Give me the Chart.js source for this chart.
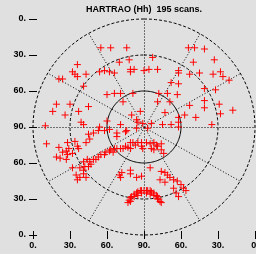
<!DOCTYPE html>
<html>
<head>
<meta charset="utf-8">
<script src="https://cdn.jsdelivr.net/npm/chart.js@4.4.1/dist/chart.umd.min.js"></script>
<style>
  html, body { margin: 0; padding: 0; background: #e0e0e0; }
  canvas { display: block; }
</style>
</head>
<body>
<canvas id="skyPlot" width="256" height="254"></canvas>
<script>
// HARTRAO (Hh) sky coverage plot
// scan positions projected on the sky: east = zd*sin(az), north = zd*cos(az), degrees
const eastOffset = [
    // north-west
    -54, -47, -58, -56, -54, -69, -66, -49, -71, -74, -60, -64, -53, -45, -51, -49, -80, -35, -27, -14,
    -20, -12, -11, -8, -11, 0, -36, -32, -28, -24, -30, -24, -19, -9, -17, -3, -10, -6, -5, -1,
    -30, -19, -36, -6,
    // north-east
    7, 4, 11, 36, 41, 49, 40, 28, 28, 37, 45, 22, 28, 49, 12, 19, 27, 11, 21, 37,
    17, 33, 42, 28, 28, 6, 15, 22, 28, 57, 56, 62, 64, 69, 58, 49, 49, 61, 62, 72,
    55, 3,
    // south-west, near zenith and west cluster
    -45, -41, -37, -44, -32, -28, -22, -22, -15, -14,
    -79, -69, -62, -56, -54, -53, -66, -63, -61, -58, -71, -68, -63, -62, -47,
    // south-west band
    -58, -55, -52, -47, -54, -49, -52, -49, -48, -45, -49, -46, -44, -41, -39, -43, -37, -35, -32, -31,
    -28, -27, -25, -24, -22, -19, -17, -15, -13, -11, -7, -11, -9, -5, -2, -2, -1,
    // south, near zenith
    2, 5, 6, 8, 10, 11, 14, 14, 8, 16,
    -20, -18, -19, -11, -11, -6, -2, 5,
    // south-east band
    14, 17, 19, 21, 24, 27, 30, 32, 34, 13, 17, 24, 26, 28,
    // southern track
    -13, -12, -11, -10, -8, -6, -5, -3, -2, 0, 2, 3, 5, 6, 8, 10, 11, 12, 13, 14,
    -11, -8, -5, -2, 2, 5, 8, 11
];
const northOffset = [
    52, 44, 46, 44, 42, 40, 40, 34, 19, 13, 19, 10, 13, 17, 4, 2, 1, 66, 66, 66,
    54, 56, 48, 48, 46, 47, 46, 47, 46, 45, 27, 28, 28, 28, 21, 13, 10, 6, 4, 3,
    5, 2, 0, -1,
    58, 48, 48, 66, 66, 65, 54, 47, 45, 44, 45, 37, 36, 32, 28, 28, 27, 21, 21, 18,
    12, 10, 8, 8, 4, 3, 2, 2, 0, 56, 44, 46, 42, 39, 31, 22, 16, 19, 11, 14,
    2, -1,
    -6, -5, -3, -10, -3, -2, -5, -8, -4, -3,
    -14, -17, -13, -12, -16, -18, -21, -20, -18, -22, -25, -26, -27, -23, -13,
    -34, -40, -42, -42, -44, -39, -34, -36, -33, -33, -29, -27, -29, -27, -27, -31, -25, -23, -23, -21,
    -20, -19, -21, -18, -18, -18, -18, -16, -17, -18, -15, -13, -13, -13, -13, -16, -18,
    -13, -14, -18, -13, -15, -16, -14, -19, -19, -22,
    -40, -38, -42, -36, -39, -42, -41, -34,
    -37, -38, -40, -42, -44, -45, -48, -51, -53, -44, -46, -51, -55, -58,
    -63, -61, -59, -58, -56, -55, -54, -53, -53, -53, -53, -53, -53, -54, -55, -57, -58, -60, -62, -63,
    -62, -58, -57, -55, -55, -56, -57, -60
];

const elevationRings = [60, 30, 0];
const azimuthSpokes = [0, 30, 60, 90, 120, 150, 180, 210, 240, 270, 300, 330];
const tickValues = [-90, -60, -30, 0, 30, 60, 90];
const tickLabels = ['0.', '30.', '60.', '90.', '60.', '30.', '0.'];
const titleText = 'HARTRAO (Hh)  195 scans.';

const FONT = '"Liberation Sans", Arial, Helvetica, sans-serif';

// rings, spokes, tick marks and title
const skyGrid = {
    id: 'skyGrid',
    beforeDatasetsDraw(chart) {
        const { ctx, scales: { x, y } } = chart;
        const cx = x.getPixelForValue(0) + 0.5;
        const cy = y.getPixelForValue(0) + 0.5;
        ctx.save();
        ctx.strokeStyle = '#000';
        ctx.lineWidth = 1;

        ctx.setLineDash([1, 2]);
        azimuthSpokes.forEach(az => {
            const a = az * Math.PI / 180;
            ctx.beginPath();
            ctx.moveTo(cx, cy);
            ctx.lineTo(x.getPixelForValue(90 * Math.sin(a)) + 0.5, y.getPixelForValue(90 * Math.cos(a)) + 0.5);
            ctx.stroke();
        });

        elevationRings.forEach(el => {
            const zd = 90 - el;
            ctx.setLineDash(el === 60 ? [] : [3, 2]);
            ctx.beginPath();
            for (let k = 0; k <= 360; k += 2) {
                const a = k * Math.PI / 180;
                const px = x.getPixelForValue(zd * Math.sin(a));
                const py = y.getPixelForValue(zd * Math.cos(a));
                if (k === 0) ctx.moveTo(px, py); else ctx.lineTo(px, py);
            }
            ctx.stroke();
        });
        ctx.restore();
    },
    afterDraw(chart) {
        const { ctx, chartArea, scales: { x, y } } = chart;
        ctx.save();
        ctx.strokeStyle = '#000';
        ctx.lineWidth = 1;
        ctx.beginPath();
        tickValues.forEach(v => {
            const px = Math.round(x.getPixelForValue(v)) + 0.5;
            ctx.moveTo(px, chartArea.bottom - 4);
            ctx.lineTo(px, chartArea.bottom + 4);
            const py = Math.round(y.getPixelForValue(v)) + 0.5;
            ctx.moveTo(chartArea.left - 4, py);
            ctx.lineTo(chartArea.left + 4, py);
        });
        ctx.stroke();

        ctx.fillStyle = '#000';
        ctx.font = 'bold 9px ' + FONT;
        ctx.textAlign = 'center';
        ctx.textBaseline = 'middle';
        ctx.fillText(titleText, (chartArea.left + chartArea.right) / 2, 10);
        ctx.restore();
    }
};

const axisOptions = (size) => ({
    min: -90,
    max: 90,
    afterBuildTicks: scale => { scale.ticks = tickValues.map(v => ({ value: v })); },
    afterFit: scale => {
        // no extra room for half labels at the ends
        scale.paddingLeft = scale.paddingRight = 0;
        scale.paddingTop = scale.paddingBottom = 0;
        if (scale.isHorizontal()) scale.height = size; else scale.width = size;
    },
    grid: { display: false, drawTicks: false },
    border: { display: false },
    ticks: {
        autoSkip: false,
        maxRotation: 0,
        color: '#000',
        font: { family: FONT, size: 9, weight: 'bold' },
        callback: (v, i) => tickLabels[i]
    }
});

const xAxis = axisOptions(19);
xAxis.ticks.padding = 5;
const yAxis = axisOptions(33);
yAxis.ticks.padding = 7;

new Chart(document.getElementById('skyPlot'), {
    type: 'scatter',
    data: {
        datasets: [{
            data: eastOffset.map((e, i) => ({ x: e, y: northOffset[i] })),
            pointStyle: 'cross',
            radius: 3.5,
            borderColor: '#ff0000',
            borderWidth: 1,
            clip: false
        }]
    },
    options: {
        responsive: false,
        animation: false,
        layout: { autoPadding: false, padding: { top: 19, right: 1, left: 0, bottom: 0 } },
        plugins: {
            legend: { display: false },
            tooltip: { enabled: false },
            title: { display: false }
        },
        scales: { x: xAxis, y: yAxis }
    },
    plugins: [skyGrid]
});
</script>
</body>
</html>
